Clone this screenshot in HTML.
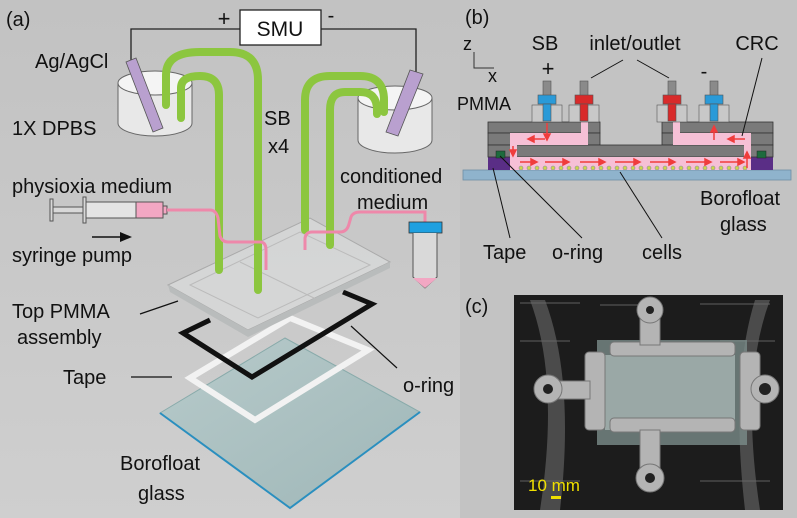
<!DOCTYPE html>
<html><head><meta charset="utf-8"><style>
body{margin:0;background:#c9c9c9}
svg{display:block}
text{font-family:"Liberation Sans",sans-serif;fill:#111}
</style></head><body>
<svg width="797" height="518" viewBox="0 0 797 518" xmlns="http://www.w3.org/2000/svg">
<defs>
<linearGradient id="bg" x1="0" y1="0" x2="0" y2="1"><stop offset="0" stop-color="#c2c2c2"/><stop offset="1" stop-color="#cfcfcf"/></linearGradient>
<linearGradient id="gl" x1="0" y1="0" x2="1" y2="1"><stop offset="0" stop-color="#b7caca"/><stop offset="1" stop-color="#9fb7b8"/></linearGradient>
</defs>
<rect width="797" height="518" fill="url(#bg)"/>
<rect x="460" y="0" width="337" height="518" fill="#c3c3c3"/>

<!-- panel a -->
<text x="6" y="26" font-size="20">(a)</text>
<polyline points="131,62 131,29 240,29" fill="none" stroke="#222" stroke-width="1.3"/>
<polyline points="321,29 416,29 416,72" fill="none" stroke="#222" stroke-width="1.3"/>
<rect x="240" y="10" width="81" height="35" fill="#fff" stroke="#222" stroke-width="1.3"/>
<text x="280" y="36" font-size="21" text-anchor="middle">SMU</text>
<text x="224" y="26" font-size="22" text-anchor="middle">+</text>
<text x="331" y="22" font-size="20" text-anchor="middle">-</text>
<text x="35" y="68" font-size="20">Ag/AgCl</text>
<text x="12" y="135" font-size="20">1X DPBS</text>
<text x="264" y="125" font-size="20">SB</text>
<text x="268" y="153" font-size="20">x4</text>
<text x="340" y="183" font-size="20">conditioned</text>
<text x="357" y="209" font-size="20">medium</text>
<text x="12" y="193" font-size="20">physioxia medium</text>
<text x="12" y="262" font-size="20">syringe pump</text>
<line x1="92" y1="237" x2="122" y2="237" stroke="#111" stroke-width="1.5"/>
<polygon points="132,237 120,232 120,242" fill="#111"/>

<!-- left beaker -->
<path d="M118,83 L118,123 A37,13 0 0 0 192,123 L192,83" fill="#e8e8e8" stroke="#666" stroke-width="1"/>
<ellipse cx="155" cy="83" rx="37" ry="12" fill="#f4f4f4" stroke="#666"/>
<polygon points="126,62 136,58 163,128 153,132" fill="#b9a0cf" stroke="#555" stroke-width="0.8"/>
<!-- right beaker -->
<path d="M358,98 L358,140 A37,13 0 0 0 432,140 L432,98" fill="#e8e8e8" stroke="#666"/>
<ellipse cx="395" cy="98" rx="37" ry="12" fill="#f4f4f4" stroke="#666"/>
<polygon points="410,70 423,74 398,136 386,132" fill="#b9a0cf" stroke="#555" stroke-width="0.8"/>

<!-- exploded view -->
<polygon points="160,413 285,338 420,412 290,508" fill="url(#gl)" stroke="#8aa" stroke-width="1"/>
<path d="M160,413 L290,508 L420,412" fill="none" stroke="#2a8fbf" stroke-width="2"/>
<polygon points="190,378 290,318 368,350 255,420" fill="none" stroke="#f2f2f2" stroke-width="6"/>
<polyline points="343,292 372,304 252,377 183,333 210,320" fill="none" stroke="#111" stroke-width="5"/>
<polygon points="168,285 310,218 390,262 248,330" fill="#d8dada" fill-opacity="0.75" stroke="#aaa" stroke-width="1"/>
<polygon points="170,292 248,337 390,268 390,262 248,330 168,285" fill="#b9bcbc"/>
<polygon points="190,285 300,232 370,265 258,318" fill="none" stroke="#bbb" stroke-width="1"/>
<line x1="240" y1="262" x2="318" y2="300" stroke="#bbb"/>

<!-- syringe -->
<g stroke="#555" stroke-width="1" fill="#d8d8d8">
<rect x="50" y="199" width="3" height="22"/>
<rect x="53" y="207" width="33" height="6"/>
<rect x="83" y="197" width="3" height="26"/>
<rect x="86" y="202" width="50" height="16" fill="#e4e4e4"/>
<rect x="136" y="202" width="27" height="16" fill="#f2a7c3"/>
<rect x="163" y="206" width="4" height="8" fill="#f2a7c3"/>
</g>

<!-- green tubes -->
<g fill="none" stroke="#8cc63f" stroke-width="8" stroke-linecap="round">
<path d="M166,105 L166,75 Q166,52 200,52 L230,52 Q258,52 258,80 L258,290"/>
<path d="M181,118 L181,88 Q181,76 200,76 Q219,76 219,95 L219,270"/>
<path d="M305,230 L305,100 Q305,76 330,76 L360,76 Q384,76 384,100 L384,112"/>
<path d="M330,245 L330,110 Q330,92 345,92 L360,92 Q377,92 377,110 L377,114"/>
</g>
<path d="M167,210 L210,210 Q216,210 218,218 L220,236 Q222,242 228,242 L260,242 Q266,242 266,250 L266,270" fill="none" stroke="#ee88aa" stroke-width="3"/>
<path d="M305,250 L305,238 Q306,232 312,232 L340,232 Q347,232 349,224 L351,217 Q353,212 360,212 L425,212 L425,222" fill="none" stroke="#ee88aa" stroke-width="3"/>
<!-- tube -->
<rect x="409" y="222" width="33" height="11" fill="#1ea0e0" stroke="#333" stroke-width="0.8"/>
<path d="M413,233 L413,277 L425,288 L437,277 L437,233" fill="#d9d9d9" stroke="#555"/>
<path d="M413,278 L437,278 L425,288 Z" fill="#f2a7c3"/>

<text x="12" y="318" font-size="20">Top PMMA</text>
<text x="17" y="344" font-size="20">assembly</text>
<line x1="140" y1="314" x2="178" y2="301" stroke="#111" stroke-width="1.2"/>
<text x="63" y="384" font-size="20">Tape</text>
<line x1="131" y1="377" x2="172" y2="377" stroke="#111" stroke-width="1.2"/>
<text x="403" y="392" font-size="20">o-ring</text>
<line x1="351" y1="326" x2="397" y2="368" stroke="#111" stroke-width="1.2"/>
<text x="120" y="470" font-size="20">Borofloat</text>
<text x="138" y="500" font-size="20">glass</text>

<!-- panel b -->
<text x="465" y="24" font-size="20">(b)</text>
<text x="463" y="50" font-size="18">z</text>
<text x="488" y="82" font-size="18">x</text>
<polyline points="474,52 474,68 494,68" fill="none" stroke="#333" stroke-width="1"/>
<text x="545" y="50" font-size="20" text-anchor="middle">SB</text>
<text x="635" y="50" font-size="20" text-anchor="middle">inlet/outlet</text>
<text x="757" y="50" font-size="20" text-anchor="middle">CRC</text>
<text x="548" y="76" font-size="22" text-anchor="middle">+</text>
<text x="704" y="78" font-size="20" text-anchor="middle">-</text>
<line x1="623" y1="60" x2="591" y2="78" stroke="#111"/>
<line x1="637" y1="60" x2="669" y2="78" stroke="#111"/>
<text x="457" y="110" font-size="18">PMMA</text>

<rect x="463" y="170" width="328" height="10" fill="#8fb3cc" stroke="#6f8fa6" stroke-width="0.8"/>
<rect x="488" y="157" width="22" height="13" fill="#5a2e86"/>
<rect x="751" y="157" width="22" height="13" fill="#5a2e86"/>
<rect x="488" y="122" width="112" height="11" fill="#7a7a7a" stroke="#333" stroke-width="0.8"/>
<rect x="662" y="122" width="111" height="11" fill="#7a7a7a" stroke="#333" stroke-width="0.8"/>
<rect x="488" y="133" width="112" height="12" fill="#7a7a7a" stroke="#333" stroke-width="0.8"/>
<rect x="662" y="133" width="111" height="12" fill="#7a7a7a" stroke="#333" stroke-width="0.8"/>
<rect x="488" y="145" width="285" height="12" fill="#7a7a7a" stroke="#333" stroke-width="0.8"/>
<path d="M510,133 L581,133 L581,122 L588,122 L588,145 L517,145 L517,157 L751,157 L751,170 L510,170 Z" fill="#f6c0d6"/>
<path d="M673,122 L680,122 L680,133 L751,133 L751,145 L673,145 Z" fill="#f6c0d6"/>
<rect x="744" y="145" width="7" height="12" fill="#f6c0d6"/>
<rect x="510" y="133" width="7" height="37" fill="#f6c0d6"/>
<rect x="496" y="151" width="9" height="7" fill="#1d6b3d" stroke="#222" stroke-width="0.5"/>
<rect x="757" y="151" width="9" height="7" fill="#1d6b3d" stroke="#222" stroke-width="0.5"/>
<g fill="#ccd84a" stroke="#88a" stroke-width="0.6">
<circle cx="521" cy="168" r="2"/><circle cx="529" cy="168" r="2"/><circle cx="537" cy="168" r="2"/><circle cx="545" cy="168" r="2"/><circle cx="553" cy="168" r="2"/><circle cx="561" cy="168" r="2"/><circle cx="569" cy="168" r="2"/><circle cx="577" cy="168" r="2"/><circle cx="585" cy="168" r="2"/><circle cx="593" cy="168" r="2"/><circle cx="601" cy="168" r="2"/><circle cx="609" cy="168" r="2"/><circle cx="617" cy="168" r="2"/><circle cx="625" cy="168" r="2"/><circle cx="633" cy="168" r="2"/><circle cx="641" cy="168" r="2"/><circle cx="649" cy="168" r="2"/><circle cx="657" cy="168" r="2"/><circle cx="665" cy="168" r="2"/><circle cx="673" cy="168" r="2"/><circle cx="681" cy="168" r="2"/><circle cx="689" cy="168" r="2"/><circle cx="697" cy="168" r="2"/><circle cx="705" cy="168" r="2"/><circle cx="713" cy="168" r="2"/><circle cx="721" cy="168" r="2"/><circle cx="729" cy="168" r="2"/><circle cx="737" cy="168" r="2"/><circle cx="745" cy="168" r="2"/>
</g>
<g stroke="#f03c3c" stroke-width="1.5" fill="#f03c3c">
<line x1="520" y1="162" x2="533" y2="162"/><polygon points="537,162 531,159 531,165"/>
<line x1="545" y1="162" x2="565" y2="162"/><polygon points="569,162 563,159 563,165"/>
<line x1="580" y1="162" x2="601" y2="162"/><polygon points="605,162 599,159 599,165"/>
<line x1="615" y1="162" x2="636" y2="162"/><polygon points="640,162 634,159 634,165"/>
<line x1="650" y1="162" x2="671" y2="162"/><polygon points="675,162 669,159 669,165"/>
<line x1="686" y1="162" x2="707" y2="162"/><polygon points="711,162 705,159 705,165"/>
<line x1="720" y1="162" x2="740" y2="162"/><polygon points="744,162 738,159 738,165"/>
<line x1="547" y1="123" x2="547" y2="136"/><polygon points="547,140 544,134 550,134"/>
<line x1="545" y1="139" x2="532" y2="139"/><polygon points="528,139 534,136 534,142"/>
<line x1="513" y1="146" x2="513" y2="152"/><polygon points="513,156 510,150 516,150"/>
<line x1="714" y1="140" x2="714" y2="130"/><polygon points="714,126 711,132 717,132"/>
<line x1="745" y1="139" x2="732" y2="139"/><polygon points="728,139 734,136 734,142"/>
<line x1="747" y1="168" x2="747" y2="156"/><polygon points="747,152 744,158 750,158"/>
</g>
<g stroke="#555" stroke-width="0.6">
<rect x="532" y="105" width="30" height="17" fill="#c8c8c8"/>
<rect x="569" y="105" width="30" height="17" fill="#c8c8c8"/>
<rect x="657" y="105" width="30" height="17" fill="#c8c8c8"/>
<rect x="699" y="105" width="30" height="17" fill="#c8c8c8"/>
<rect x="543" y="81" width="8" height="15" fill="#8a8a8a"/>
<rect x="580" y="81" width="8" height="15" fill="#8a8a8a"/>
<rect x="668" y="81" width="8" height="15" fill="#8a8a8a"/>
<rect x="710" y="81" width="8" height="15" fill="#8a8a8a"/>
<rect x="538" y="95" width="18" height="9" fill="#2a9ad8"/>
<rect x="575" y="95" width="18" height="9" fill="#d82a2a"/>
<rect x="663" y="95" width="18" height="9" fill="#d82a2a"/>
<rect x="705" y="95" width="18" height="9" fill="#2a9ad8"/>
<rect x="543" y="104" width="8" height="17" fill="#2a9ad8"/>
<rect x="580" y="104" width="8" height="17" fill="#d82a2a"/>
<rect x="668" y="104" width="8" height="17" fill="#d82a2a"/>
<rect x="710" y="104" width="8" height="17" fill="#2a9ad8"/>
</g>
<line x1="762" y1="58" x2="742" y2="136" stroke="#111"/>
<line x1="493" y1="168" x2="510" y2="238" stroke="#111"/>
<line x1="500" y1="156" x2="582" y2="238" stroke="#111"/>
<line x1="620" y1="172" x2="662" y2="238" stroke="#111"/>
<text x="700" y="205" font-size="20">Borofloat</text>
<text x="720" y="231" font-size="20">glass</text>
<text x="483" y="259" font-size="20">Tape</text>
<text x="552" y="259" font-size="20">o-ring</text>
<text x="642" y="259" font-size="20">cells</text>

<!-- panel c -->
<text x="465" y="313" font-size="20">(c)</text>
<svg x="514" y="295" width="269" height="215" viewBox="514 295 269 215">
<rect x="514" y="295" width="269" height="215" fill="#1c1c1c"/>
<g fill="#555" opacity="0.6">
<rect x="520" y="302" width="60" height="2"/><rect x="600" y="304" width="60" height="2"/><rect x="700" y="303" width="70" height="2"/>
<rect x="520" y="340" width="50" height="2"/><rect x="720" y="340" width="55" height="2"/>
<rect x="520" y="480" width="60" height="2"/><rect x="700" y="480" width="70" height="2"/>
</g>
<path d="M530,300 Q560,380 540,510 L560,510 Q575,380 545,300Z" fill="#6a6a6a" opacity="0.6"/>
<path d="M770,300 Q740,380 760,510 L745,510 Q730,380 755,300Z" fill="#6a6a6a" opacity="0.6"/>
<rect x="597" y="340" width="150" height="105" fill="#7a8c8a" opacity="0.8"/>
<rect x="605" y="355" width="130" height="75" fill="#9aa8a6"/>
<g fill="#b4b4b4" stroke="#777" stroke-width="1">
<rect x="610" y="342" width="125" height="14" rx="4"/>
<rect x="610" y="418" width="125" height="14" rx="4"/>
<rect x="585" y="352" width="20" height="78" rx="4"/>
<rect x="740" y="352" width="20" height="78" rx="4"/>
<rect x="640" y="310" width="20" height="35"/>
<rect x="640" y="430" width="20" height="45"/>
<rect x="545" y="381" width="45" height="18"/>
<rect x="755" y="381" width="15" height="18"/>
<circle cx="650" cy="310" r="13"/>
<circle cx="650" cy="478" r="14"/>
<circle cx="548" cy="389" r="14"/>
<circle cx="765" cy="389" r="14"/>
</g>
<g fill="#222"><circle cx="650" cy="310" r="4"/><circle cx="650" cy="478" r="5"/><circle cx="548" cy="389" r="5"/><circle cx="765" cy="389" r="6"/></g>
<text x="528" y="491" font-size="17" style="fill:#f0e000">10 mm</text>
<rect x="551" y="496" width="10" height="3" fill="#f0e000"/>
</svg>
</svg>
</body></html>
